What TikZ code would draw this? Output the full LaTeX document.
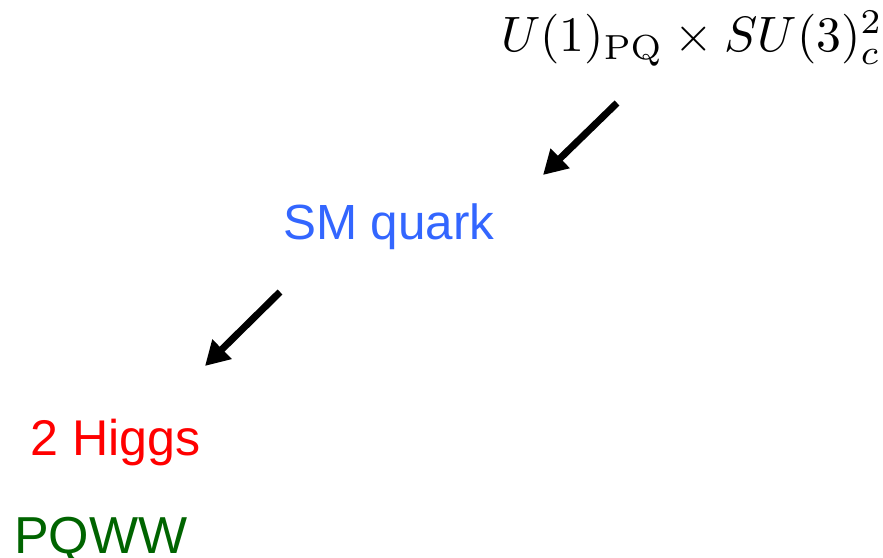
\documentclass[tikz,border=0pt]{standalone}
\usepackage[no-math]{fontspec}
\setmainfont{Liberation Sans}
\usetikzlibrary{arrows.meta}
\definecolor{smblue}{RGB}{51,102,255}
\definecolor{higgsred}{RGB}{255,0,0}
\definecolor{pqgreen}{RGB}{0,100,0}
\tikzset{
  lbl/.style={inner sep=0pt, anchor=base west, font=\fontsize{51}{60}\selectfont},
  bigarrow/.style={line width=7pt, -{Triangle[length=24pt,width=26pt]}}
}
\begin{document}
\begin{tikzpicture}[x=1pt,y=1pt]
\useasboundingbox (0,0) rectangle (883,557);
\node[inner sep=0pt, anchor=base east] (sym) at (883,505) {\scalebox{4.97}{$U(1)_{\mathrm{PQ}}\times SU(3)_c^2$}};
\node[lbl, text=smblue, font=\fontsize{49.4}{60}\selectfont] (sm) at (283,317) {SM quark};
\node[lbl, text=higgsred, font=\fontsize{50.2}{60}\selectfont] (hg) at (30,102) {2 Higgs};
\node[lbl, text=pqgreen, font=\fontsize{52}{60}\selectfont] (pq) at (14,4) {PQWW};
\coordinate (a1s) at (617,454);
\coordinate (a1e) at (543,382);
\coordinate (a2s) at (280,265);
\coordinate (a2e) at (205,191);
\draw[bigarrow] (a1s) -- (a1e);
\draw[bigarrow] (a2s) -- (a2e);
\end{tikzpicture}
\end{document}
